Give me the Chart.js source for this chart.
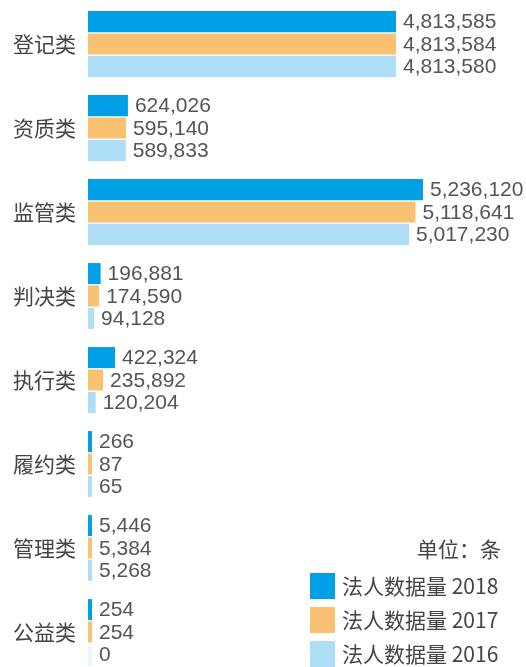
<!DOCTYPE html>
<html>
<head>
<meta charset="utf-8">
<script src="https://cdn.jsdelivr.net/npm/chart.js@4/dist/chart.umd.min.js"></script>
<style>
  html, body { margin: 0; padding: 0; background: #ffffff; overflow: hidden; }
  #wrap { width: 526px; height: 667px; overflow: hidden; position: relative; }
  canvas { display: block; }
</style>
</head>
<body>
<div id="wrap"><canvas id="c" width="526" height="680"></canvas></div>
<script>
const categories = ['登记类', '资质类', '监管类', '判决类', '执行类', '履约类', '管理类', '公益类'];
const values2018 = [4813585, 624026, 5236120, 196881, 422324, 266, 5446, 254];
const values2017 = [4813584, 595140, 5118641, 174590, 235892, 87, 5384, 254];
const values2016 = [4813580, 589833, 5017230, 94128, 120204, 65, 5268, 0];
const seriesLabels = ['法人数据量 2018', '法人数据量 2017', '法人数据量 2016'];
const unitLabel = '单位：条';

const colors = ['#009FE6', '#F8C272', '#AEDEF6'];
const cjkFont = '"Noto Sans CJK SC", "Noto Sans", sans-serif';
const numFont = '"Liberation Sans", Arial, sans-serif';

function fmt(v) { return v.toLocaleString('en-US'); }

const valueLabels = {
  id: 'valueLabels',
  afterDatasetsDraw(chart) {
    const ctx = chart.ctx;
    ctx.save();
    ctx.font = '21px ' + numFont;
    ctx.fillStyle = '#555555';
    ctx.textAlign = 'left';
    ctx.textBaseline = 'middle';
    chart.data.datasets.forEach((ds, di) => {
      const meta = chart.getDatasetMeta(di);
      meta.data.forEach((el, i) => {
        const v = ds.data[i];
        const end = Math.max(el.x, el.base + 4);
        ctx.fillText(fmt(v), end + 7, el.y + 1);
      });
    });
    ctx.restore();
  }
};

const cornerLegend = {
  id: 'cornerLegend',
  afterDraw(chart) {
    const ctx = chart.ctx;
    ctx.save();
    ctx.font = '21px ' + cjkFont;
    ctx.fillStyle = '#444444';
    ctx.textBaseline = 'middle';
    ctx.textAlign = 'right';
    ctx.fillText(unitLabel, 501, 549);
    ctx.textAlign = 'left';
    chart.data.datasets.forEach((ds, di) => {
      const top = 573 + di * 34;
      ctx.fillStyle = colors[di];
      ctx.fillRect(310, top, 25, 26);
      ctx.fillStyle = '#444444';
      ctx.fillText(ds.label, 342, top + 13);
    });
    ctx.restore();
  }
};

const mkDs = (label, data, color) => ({
  label: label,
  data: data,
  backgroundColor: (c) => (c.raw === 0 ? 'rgba(174,222,246,0.25)' : color),
  borderWidth: 0,
  barPercentage: 0.94,
  categoryPercentage: 0.8,
  minBarLength: 4
});

new Chart(document.getElementById('c'), {
  type: 'bar',
  data: {
    labels: categories,
    datasets: [
      mkDs(seriesLabels[0], values2018, colors[0]),
      mkDs(seriesLabels[1], values2017, colors[1]),
      mkDs(seriesLabels[2], values2016, colors[2])
    ]
  },
  options: {
    indexAxis: 'y',
    responsive: false,
    animation: false,
    devicePixelRatio: 1,
    layout: { padding: { top: 2, bottom: 6, left: 0, right: 0 } },
    plugins: {
      legend: { display: false },
      tooltip: { enabled: false }
    },
    scales: {
      x: {
        display: false,
        min: 0,
        max: 6846000
      },
      y: {
        grid: { display: false, drawTicks: false },
        border: { display: false },
        ticks: {
          color: '#444444',
          font: { family: cjkFont, size: 21 },
          padding: 12
        },
        afterFit(scale) {
          scale.width = 88;
          scale.paddingTop = 0;
          scale.paddingBottom = 0;
        }
      }
    }
  },
  plugins: [valueLabels, cornerLegend]
});
</script>
</body>
</html>
